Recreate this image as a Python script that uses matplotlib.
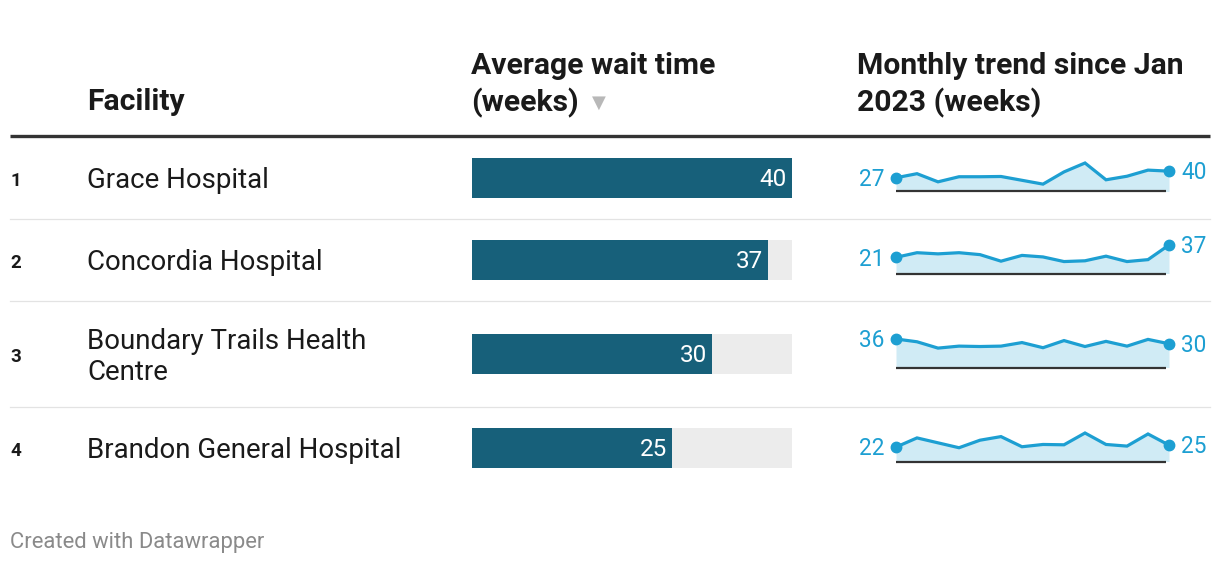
import matplotlib
matplotlib.use("Agg")
import matplotlib.pyplot as plt

plt.rcParams['font.family'] = ['Roboto', 'DejaVu Sans']

# ---------------- data ----------------
ranks = ["1", "2", "3", "4"]
facilities = ["Grace Hospital", "Concordia Hospital",
              "Boundary Trails Health\nCentre", "Brandon General Hospital"]
avg_wait = [40, 37, 30, 25]
trend_grace = [27, 35, 19, 29, 29, 29.5, 22, 14.5, 38.5, 56, 23, 30, 42, 40]
trend_concordia = [21, 27, 25.5, 27, 24.5, 16, 23.5, 21.5, 15.5, 16.5, 22.5, 15.5, 18, 37]
trend_boundary = [36, 32.5, 24.5, 27, 26.5, 27, 31.5, 25, 34, 26.5, 33, 27, 35.5, 30]
trend_brandon = [22, 36, 28.5, 21, 32.5, 38, 22.5, 26, 25.5, 43.5, 26, 23.5, 42, 25]
trends = [trend_grace, trend_concordia, trend_boundary, trend_brandon]
start_labels = ["27", "21", "36", "22"]
end_labels = ["40", "37", "30", "25"]
bar_max = 40

# ---------------- layout ----------------
W, H = 1220, 564
row_y = [178, 260, 354, 448]
sep_y = [219, 301, 407]

BAR_COL = "#17607a"
BG_COL = "#ececec"
LINE_COL = "#1d9fd2"
FILL_COL = "#d0ebf5"
TEXT = "#1a1a1a"

fig = plt.figure(figsize=(W / 100, H / 100), dpi=100)
bg = fig.add_axes([0, 0, 1, 1])
bg.set_xlim(0, W)
bg.set_ylim(H, 0)
bg.axis("off")

# headers
hfs = 21.7
bg.text(87, 102.5, "Facility", fontsize=hfs, fontweight="bold", color=TEXT, va="center", ha="left")
bg.text(471, 66.5, "Average wait time", fontsize=hfs, fontweight="bold", color=TEXT, va="center", ha="left")
bg.text(471, 102.5, "(weeks)", fontsize=hfs, fontweight="bold", color=TEXT, va="center", ha="left")
bg.text(592, 103, "▼", fontsize=13, color="#b8b8b8", va="center", ha="left", family=['DejaVu Sans'])
bg.text(857, 66.5, "Monthly trend since Jan", fontsize=hfs, fontweight="bold", color=TEXT, va="center", ha="left")
bg.text(857, 102.5, "2023 (weeks)", fontsize=hfs, fontweight="bold", color=TEXT, va="center", ha="left")

# rules
bg.plot([10, 1210], [135.5, 135.5], color="#333333", lw=2.4, solid_capstyle="butt")
for y in sep_y:
    bg.plot([10, 1210], [y, y], color="#e3e3e3", lw=0.9)

# row texts
for i, y in enumerate(row_y):
    bg.text(10, y + 2.5, ranks[i], fontsize=13.5, fontweight="bold", color=TEXT, va="center", ha="left")
    bg.text(87, y + 3, facilities[i], fontsize=19.9, color=TEXT, va="center", ha="left",
            linespacing=1.22)

# bars
bax = fig.add_axes([472 / W, 0, 320 / W, 1])
bax.set_xlim(0, bar_max)
bax.set_ylim(H, 0)
bax.axis("off")
bax.barh(row_y, [bar_max] * len(avg_wait), height=40, color=BG_COL)
bax.barh(row_y, avg_wait, height=40, color=BAR_COL)
for y, v in zip(row_y, avg_wait):
    bax.text(v - 0.65, y + 2, f"{v}", color="white", fontsize=17.5, va="center", ha="right")

# sparklines
sx0, sx1 = 896, 1169
for i, y in enumerate(row_y):
    vals = trends[i]
    base = y + 13.5
    h = 28.5
    ax = fig.add_axes([sx0 / W, (H - base) / H, (sx1 - sx0) / W, h / H])
    ax.set_xlim(0, len(vals) - 1)
    ax.set_ylim(0, max(vals))
    ax.axis("off")
    xs = list(range(len(vals)))
    ax.fill_between(xs, vals, 0, color=FILL_COL, lw=0)
    ax.plot(xs, vals, color=LINE_COL, lw=2.3, clip_on=False, solid_joinstyle="miter")
    ax.plot([xs[0], xs[-1]], [vals[0], vals[-1]], "o", color=LINE_COL, ms=7.5, clip_on=False)
    ax.plot([0, len(vals) - 1.15], [0, 0], color="#333333", lw=1.6, clip_on=False,
            solid_capstyle="butt")
    ax.annotate(start_labels[i], (0, vals[0]), xytext=(-8.5, -1.3), textcoords="offset points",
                color=LINE_COL, fontsize=16.3, va="center", ha="right", annotation_clip=False)
    ax.annotate(end_labels[i], (len(vals) - 1, vals[-1]), xytext=(9, -1.3), textcoords="offset points",
                color=LINE_COL, fontsize=16.3, va="center", ha="left", annotation_clip=False)

bg.text(10, 542.5, "Created with Datawrapper", fontsize=15.8, color="#8a8a8a", va="center", ha="left")

fig.savefig("out.png", dpi=100)
